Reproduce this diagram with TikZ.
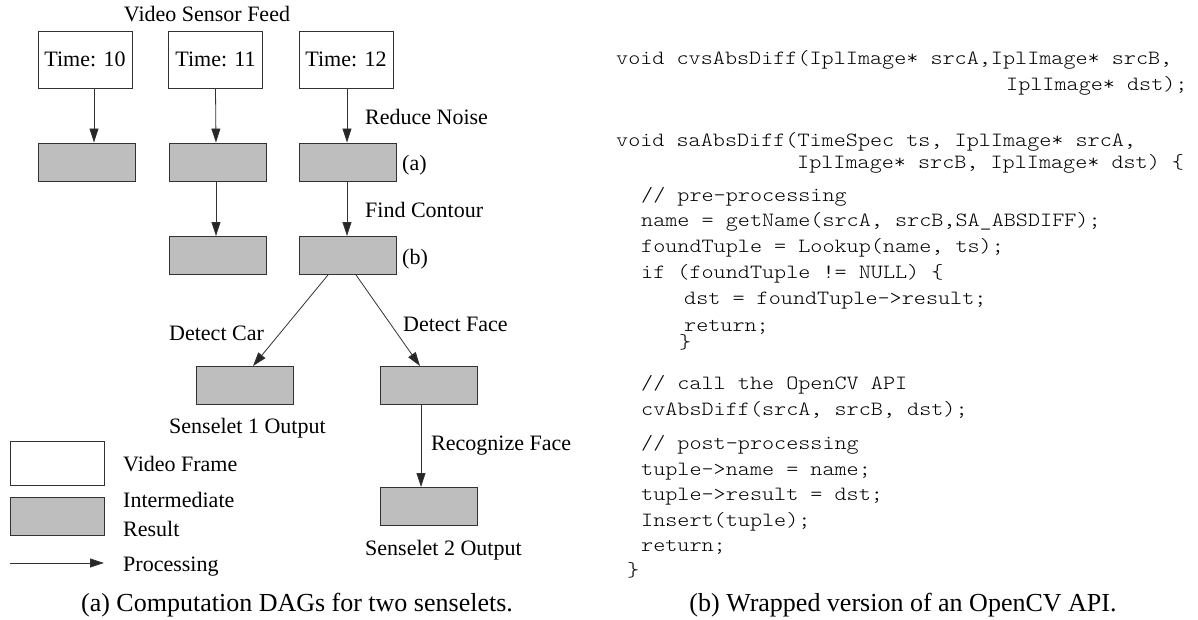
\documentclass[tikz,border=0pt]{standalone}
\usepackage{fontspec}
\setmainfont{Liberation Serif}
\setmonofont{lmmonolt10-regular.otf}[FakeStretch=1.14]
\usetikzlibrary{arrows.meta}
\definecolor{boxgray}{RGB}{190,190,190}
\definecolor{linegray}{RGB}{50,50,50}
\begin{document}
\begin{tikzpicture}[x=1pt,y=-1pt,
  wbox/.style={draw=linegray,line width=0.9pt,fill=white,minimum width=94pt,minimum height=57pt,inner sep=0pt,
    font=\fontsize{22}{26}\selectfont},
  gbox/.style={draw=linegray,line width=0.9pt,fill=boxgray,minimum width=97pt,minimum height=38pt,inner sep=0pt},
  arr/.style={draw=linegray,line width=0.8pt,-{Triangle[length=14pt,width=9pt,fill=black!85]}},
  lbl/.style={anchor=base west,inner sep=0pt,font=\fontsize{22}{26}\selectfont},
  captext/.style={anchor=base,inner sep=0pt,font=\fontsize{26}{30}\selectfont},
  code/.style={anchor=base west,inner sep=0pt,font=\fontsize{20.2}{24}\selectfont\ttfamily}]
\useasboundingbox (0,0) rectangle (1198,620);

% ---- left: computation DAGs ----
\node[anchor=base,inner sep=0pt,font=\fontsize{22}{26}\selectfont] (feed) at (207,22) {Video Sensor Feed};
\node[wbox] (t1) at (85,59.5) {Time: 10};
\node[wbox] (t2) at (215.5,59.5) {Time: 11};
\node[wbox] (t3) at (346,59.5) {Time: 12};

\node[gbox] (g1) at (86.5,162) {};
\node[gbox] (g2) at (217.5,162) {};
\node[gbox] (g3) at (347.5,162) {};
\node[gbox] (h2) at (217.5,255.5) {};
\node[gbox] (h3) at (347.5,255.5) {};

\node[gbox] (s1) at (245,385.5) {};
\node[gbox] (f1) at (428.5,385.5) {};
\node[gbox] (s2) at (428.5,506.5) {};

\draw[arr] ([xshift=9pt]t1.south) -- ([xshift=7.5pt]g1.north);
\draw[arr] (t2.south) -- ([xshift=-1.5pt]g2.north);
\draw[arr] ([xshift=1pt]t3.south) -- ([xshift=-0.5pt]g3.north);
\draw[arr] ([xshift=-1.5pt]g2.south) -- ([xshift=-1.5pt]h2.north);
\draw[arr] ([xshift=-0.5pt]g3.south) -- ([xshift=-0.5pt]h3.north);
\draw[arr] ([xshift=-19.5pt]h3.south) -- ([xshift=8pt]s1.north);
\draw[arr] ([xshift=8.5pt]h3.south) -- ([xshift=-8.5pt]f1.north);
\draw[arr] ([xshift=-7.5pt]f1.south) -- ([xshift=-7.5pt]s2.north);

\node[lbl] (lrn) at (365,125) {Reduce Noise};
\node[lbl] (la) at (402,171) {(a)};
\node[lbl] (lfc) at (365,218) {Find Contour};
\node[lbl] (lb) at (402,265) {(b)};
\node[lbl] (ldc) at (169,340) {Detect Car};
\node[lbl] (ldf) at (403,331) {Detect Face};
\node[lbl] (lrf) at (431,450) {Recognize Face};
\node[lbl] (lo1) at (169,433) {Senselet 1 Output};
\node[lbl] (lo2) at (365,555) {Senselet 2 Output};

% legend
\node[wbox,minimum width=94pt,minimum height=44pt] (kw) at (57,463) {};
\node[gbox,minimum width=94pt,minimum height=38pt] (kg) at (57,516) {};
\coordinate (ka) at (10,563);
\coordinate (kb) at (104,563);
\draw[arr] (ka) -- (kb);
\node[lbl] (kvf) at (123,471) {Video Frame};
\node[lbl] (kim) at (123,507) {Intermediate};
\node[lbl] (kre) at (123,536) {Result};
\node[lbl] (kpr) at (123,571) {Processing};

\node[captext] (capa) at (297,611) {(a) Computation DAGs for two senselets.};

% ---- right: code ----
\node[code] (c1) at (616,65) {void cvsAbsDiff(IplImage* srcA,IplImage* srcB,};
\node[code] (c2) at (1006,91) {IplImage* dst);};
\node[code] (c3) at (616,147) {void saAbsDiff(TimeSpec ts, IplImage* srcA,};
\node[code] (c4) at (797,169) {IplImage* srcB, IplImage* dst) \{};
\node[code] (c5) at (641,202) {// pre-processing};
\node[code] (c6) at (641,227) {name = getName(srcA, srcB,SA\_ABSDIFF);};
\node[code] (c7) at (641,252) {foundTuple = Lookup(name, ts);};
\node[code] (c8) at (641,278) {if (foundTuple != NULL) \{};
\node[code] (c9) at (684,304) {dst = foundTuple->result;};
\node[code] (c10) at (684,331) {return;};
\node[code] (c11) at (679,348) {\}};
\node[code] (c12) at (641,389) {// call the OpenCV API};
\node[code] (c13) at (641,415) {cvAbsDiff(srcA, srcB, dst);};
\node[code] (c14) at (641,449) {// post-processing};
\node[code] (c15) at (641,475) {tuple->name = name;};
\node[code] (c16) at (641,500) {tuple->result = dst;};
\node[code] (c17) at (641,526) {Insert(tuple);};
\node[code] (c18) at (641,551) {return;};
\node[code] (c19) at (627,576) {\}};

\node[captext] (capb) at (903,611) {(b) Wrapped version of an OpenCV API.};
\end{tikzpicture}
\end{document}
